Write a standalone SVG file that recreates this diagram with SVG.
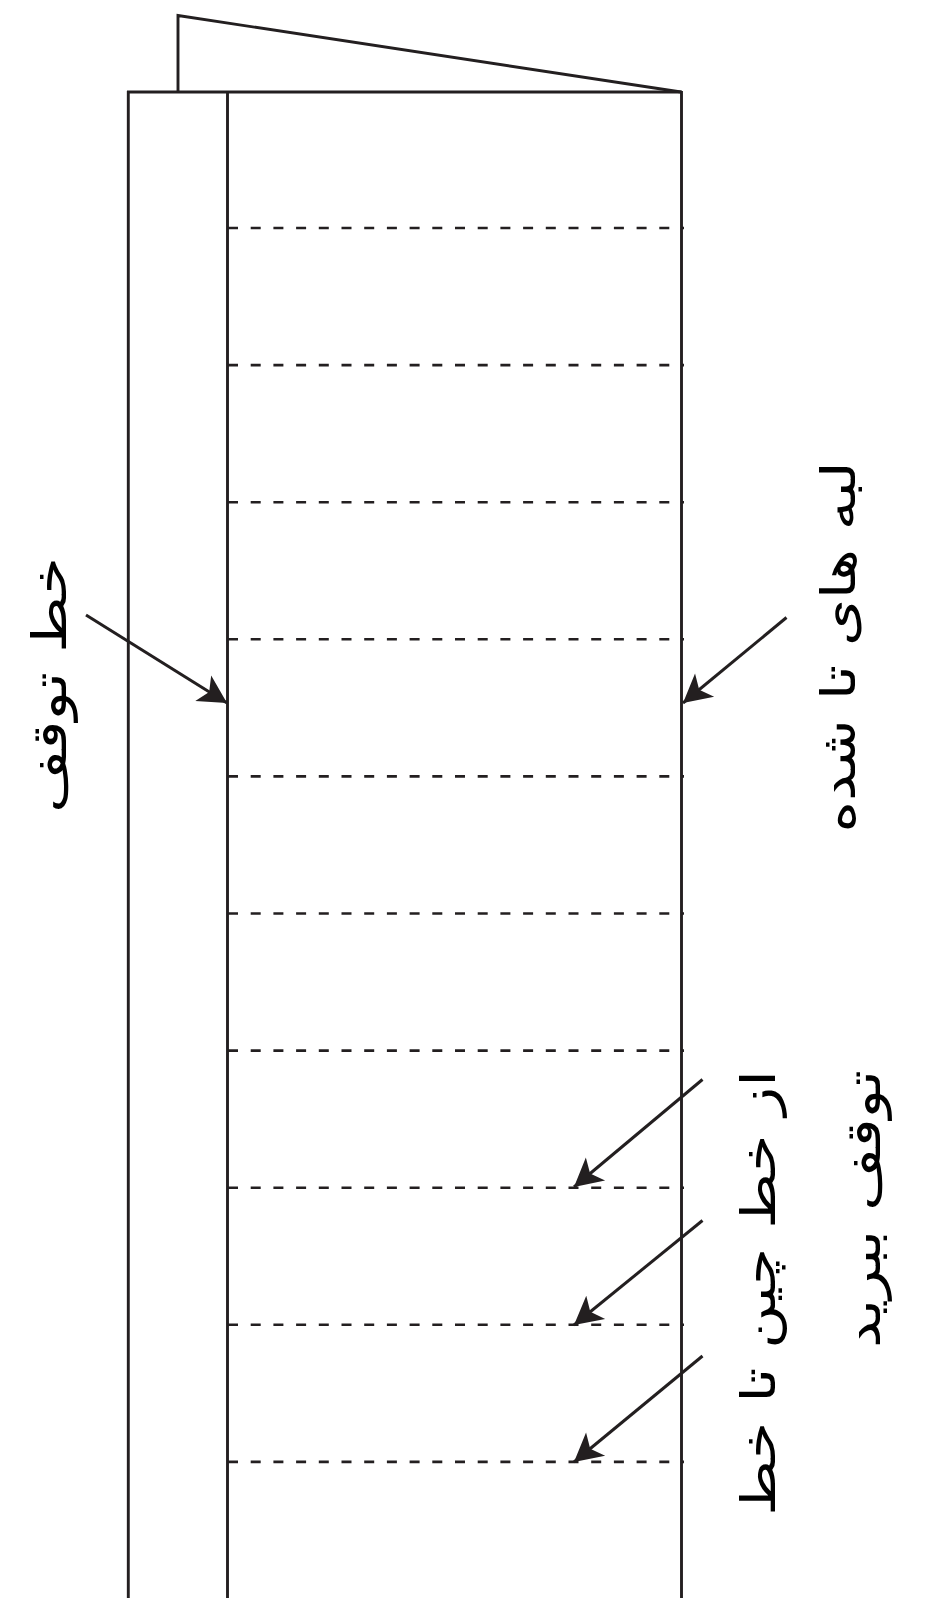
<svg xmlns="http://www.w3.org/2000/svg" width="925" height="1598" viewBox="0 0 925 1598">
<style>
.ln{fill:none;stroke:#231f20;stroke-width:2.9;stroke-linejoin:miter}
.dash{fill:none;stroke:#231f20;stroke-width:2.6;stroke-dasharray:10 12.7}
.arr{fill:none;stroke:#231f20;stroke-width:3}
.lbl{font-family:"DejaVu Sans",sans-serif;font-size:48px;fill:#000}
</style>
<defs>
<marker id="ah" markerUnits="userSpaceOnUse" markerWidth="40" markerHeight="36" viewBox="-31 -18 33 36" refX="0" refY="0" orient="auto">
<path d="M0,0 L-28,-15 L-21,0 L-28,15 Z" fill="#231f20"/>
</marker>
</defs>
<rect width="925" height="1598" fill="#fff"/>
<g id="paper">
<polyline class="ln" points="178,92 178,15.5 681,92"/>
<line class="ln" x1="127" y1="92" x2="682" y2="92"/>
<line class="ln" x1="128.3" y1="91" x2="128.3" y2="1598"/>
<line class="ln" x1="227.5" y1="91" x2="227.5" y2="1598"/>
<line class="ln" x1="681.5" y1="91" x2="681.5" y2="1598"/>
</g>
<g id="fold-lines">
<line class="dash" x1="228" y1="228" x2="684" y2="228"/>
<line class="dash" x1="228" y1="365.1" x2="684" y2="365.1"/>
<line class="dash" x1="228" y1="502.2" x2="684" y2="502.2"/>
<line class="dash" x1="228" y1="639.3" x2="684" y2="639.3"/>
<line class="dash" x1="228" y1="776.4" x2="684" y2="776.4"/>
<line class="dash" x1="228" y1="913.5" x2="684" y2="913.5"/>
<line class="dash" x1="228" y1="1050.6" x2="684" y2="1050.6"/>
<line class="dash" x1="228" y1="1187.7" x2="684" y2="1187.7"/>
<line class="dash" x1="228" y1="1324.8" x2="684" y2="1324.8"/>
<line class="dash" x1="228" y1="1461.9" x2="684" y2="1461.9"/>
</g>
<g id="connectors">
<line class="arr" x1="86" y1="615" x2="227" y2="703" marker-end="url(#ah)"/>
<line class="arr" x1="786.5" y1="617.5" x2="683" y2="703" marker-end="url(#ah)"/>
<line class="arr" x1="702.5" y1="1079.5" x2="574" y2="1187" marker-end="url(#ah)"/>
<line class="arr" x1="702.5" y1="1220.5" x2="574" y2="1325" marker-end="url(#ah)"/>
<line class="arr" x1="702.5" y1="1356" x2="574" y2="1462" marker-end="url(#ah)"/>
</g>
<g id="label-stop-line">
<text class="lbl" transform="translate(66,685) rotate(-90) scale(1.27,1)" text-anchor="middle">خط توقف</text>
</g>
<g id="label-folded-edges">
<text class="lbl" transform="translate(855,647) rotate(-90) scale(1.25,1)" text-anchor="middle">لبه های تا شده</text>
</g>
<g id="label-cut">
<text class="lbl" transform="translate(775,1070) rotate(-90) scale(1.25,1)" text-anchor="end">از خط چین تا خط</text>
<text class="lbl" transform="translate(880,1070) rotate(-90) scale(1.27,1)" text-anchor="end">توقف ببرید</text>
</g>
</svg>
